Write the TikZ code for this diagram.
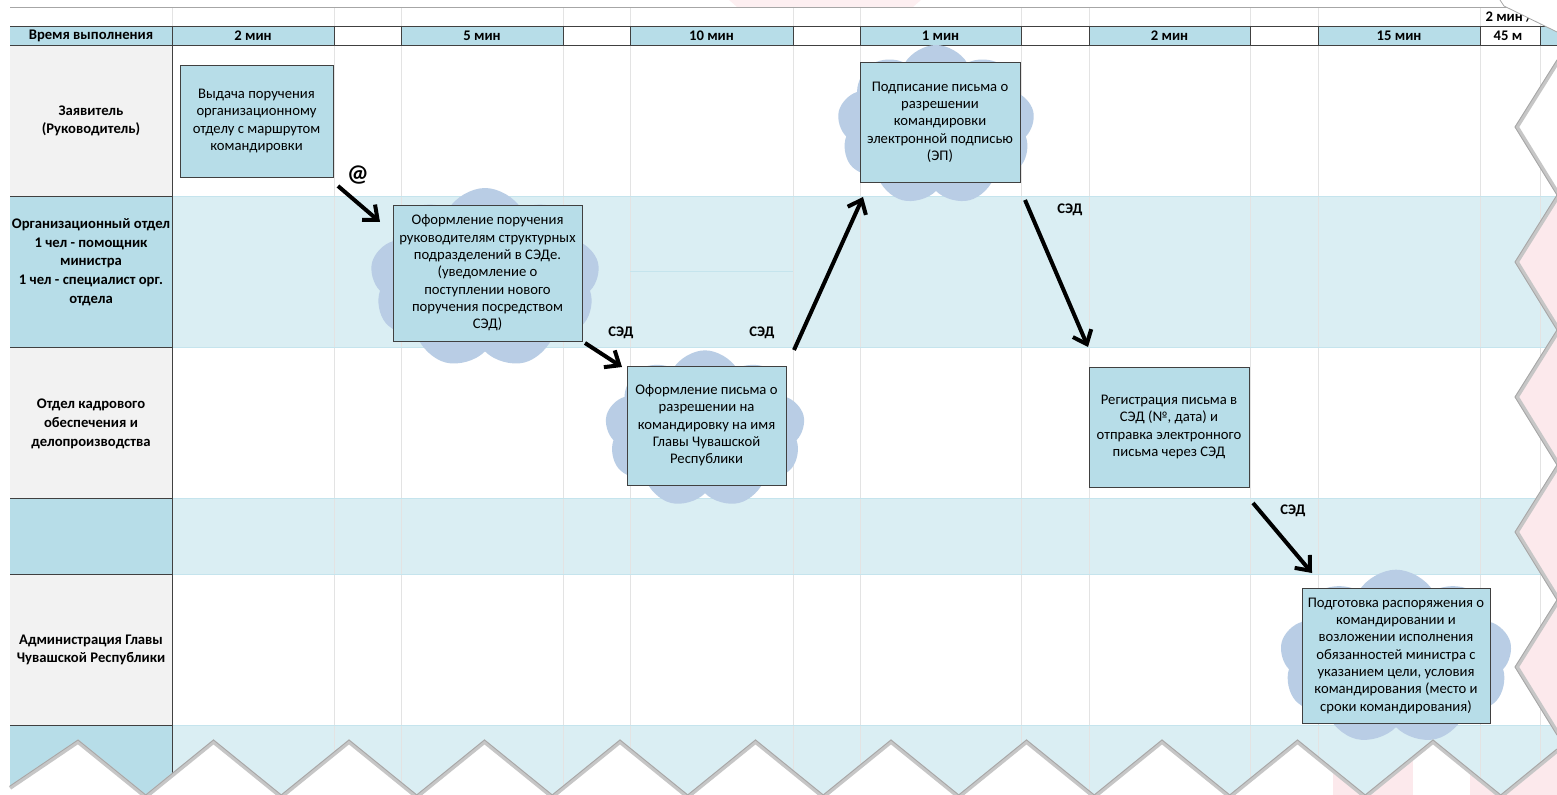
\documentclass[tikz,border=0pt]{standalone}
\usepackage{fontspec}
\setmainfont{Carlito}
\usepackage{tikz}
\usetikzlibrary{shapes, shapes.symbols, arrows.meta, calc, positioning}

\definecolor{hdrblue}{HTML}{B7DDE8}
\definecolor{rowblue}{HTML}{DAEEF3}
\definecolor{lblgray}{HTML}{F2F2F2}
\definecolor{cloudblue}{HTML}{B9CDE5}
\definecolor{edgegray}{HTML}{404040}
\definecolor{wmpink}{HTML}{FBE4E7}

\begin{document}
\begin{tikzpicture}[x=0.75pt, y=-0.75pt, >={Straight Barb[length=9pt, width=15pt]}]
	\tikzstyle{box} = [draw=edgegray, line width=0.7pt, fill=hdrblue, inner sep=2pt,
		align=center, font=\fontsize{11}{13}\selectfont]
	\tikzstyle{cloudy} = [cloud, cloud puffs=9, cloud puff arc=120, fill=cloudblue,
		draw=none, inner sep=0pt]
	\tikzstyle{lane} = [align=center, inner sep=0pt, font=\bfseries\fontsize{11}{14}\selectfont]
	\tikzstyle{hdrtext} = [inner sep=0pt, font=\bfseries\fontsize{11}{13}\selectfont]
	\tikzstyle{tag} = [inner sep=0pt, font=\bfseries\fontsize{11}{13}\selectfont]
	\tikzstyle{tablerule} = [draw=edgegray, line width=0.6pt]
	\tikzstyle{gridline} = [draw=gray!22, line width=0.6pt]
	\tikzstyle{lanerule} = [draw=hdrblue!80, line width=0.6pt]
	\tikzstyle{papercut} = [fill=white]
	\tikzstyle{cutedge} = [draw=gray!70, line width=0.6pt]
	\tikzstyle{cutshadow} = [draw=gray!45, line width=3pt]

	\useasboundingbox (0,0) rectangle (1557,795);
	\def\bottomcut{(10,786) \foreach \k in {0,...,10} { -- ({78+135.5*\k},740) -- ({145.75+135.5*\k},795) } -- (1557,749)}
	\def\rightcut{(1557,60) -- (1515,127) -- (1557,195) -- (1515,262) -- (1557,330) -- (1515,397)
		-- (1557,465) -- (1515,532) -- (1557,600) -- (1515,667) -- (1557,735)}
	\def\cornercut{(1500,0) -- (1504,6) -- (1557,32)}

	\fill[wmpink!60] (729,0) -- (921,0) -- (913,7) -- (737,7) -- cycle;

	\foreach \ya/\yb/\lc/\rc in {45/196/lblgray/white, 196/347/hdrblue/rowblue,
		347/498/lblgray/white, 498/574/hdrblue/rowblue, 574/725/lblgray/white, 725/800/hdrblue/rowblue}
	{
		\fill[\lc] (10,\ya) rectangle (172,\yb);
		\fill[\rc] (172,\ya) rectangle (1557,\yb);
	}
	\foreach \x in {172,334,401,563,630,793,860,1021,1089,1250,1318,1480,1540}
		\draw[gridline] (\x,7) -- (\x,795);
	\foreach \y in {196,347,498,574,725}
	{
		\draw[lanerule] (172,\y) -- (1557,\y);
		\draw[tablerule] (10,\y) -- (172,\y);
	}
	\draw[lanerule] (630,271) -- (793,271);
	\draw[tablerule] (172,45) -- (172,795);
	\draw[draw=gray!70, line width=0.6pt] (10,7) -- (1557,7);

	\fill[hdrblue] (10,26) rectangle (172,45);
	\fill[hdrblue] (1540,26) rectangle (1557,45);
	\foreach \xa/\xb/\txt [count=\i] in {172/334/2 мин, 401/563/5 мин, 630/793/10 мин,
		860/1021/1 мин, 1089/1250/2 мин, 1318/1480/15 мин}
	{
		\fill[hdrblue] (\xa,26) rectangle (\xb,45);
		\node[hdrtext] (hd\i) at ({(\xa+\xb)/2},35.5) {\txt};
	}
	\draw[tablerule] (10,26) -- (1557,26) (10,45) -- (1557,45);
	\foreach \x in {172,334,401,563,630,793,860,1021,1089,1250,1318,1480,1540}
		\draw[tablerule] (\x,26) -- (\x,45);
	\node[hdrtext] (hd0) at (91,35.5) {Время выполнения};
	\node[hdrtext] (tot1) at (1509,17) {2 мин /};
	\node[hdrtext] (tot2) at (1508,36) {45 м};

	\node[lane] (ln1) at (91,121) {Заявитель\\(Руководитель)};
	\node[lane] (ln2) at (91,262) {Организационный отдел\\1 чел - помощник\\министра\\1 чел - специалист орг.\\отдела};
	\node[lane] (ln3) at (91,424) {Отдел кадрового\\обеспечения и\\делопроизводства};
	\node[lane] (ln5) at (91,650) {Администрация Главы\\Чувашской Республики};

	\begin{scope}
		\path[->, line width=3pt]
			node[cloudy, minimum width=172pt, minimum height=135pt] (cl2) at (485,278) {}
			node[cloudy, minimum width=148pt, minimum height=120pt] (cl3) at (936,125) {}
			node[cloudy, minimum width=150pt, minimum height=118pt] (cl4) at (705,429) {}
			node[cloudy, minimum width=174pt, minimum height=131pt] (cl6) at (1396,657) {}

			node[box, minimum width=114.75pt, minimum height=84pt] (b1) at (256.5,121)
				{Выдача поручения\\организационному\\отделу с маршрутом\\командировки}
			node[box, minimum width=141.75pt, minimum height=102pt] (b2) at (487.5,273)
				{Оформление поручения\\руководителям структурных\\подразделений в СЭДе.\\(уведомление о\\поступлении нового\\поручения посредством\\СЭД)}
			node[box, minimum width=120pt, minimum height=90pt] (b3) at (940,122)
				{Подписание письма о\\разрешении\\командировки\\электронной подписью\\(ЭП)}
			node[box, minimum width=119.25pt, minimum height=89.25pt] (b4) at (706.5,425.5)
				{Оформление письма о\\разрешении на\\командировку на имя\\Главы Чувашской\\Республики}
			node[box, minimum width=120pt, minimum height=90pt] (b5) at (1169,427)
				{Регистрация письма в\\СЭД (№, дата) и\\отправка электронного\\письма через СЭД}
			node[box, minimum width=141pt, minimum height=101.25pt] (b6) at (1396,655.5)
				{Подготовка распоряжения о\\командировании и\\возложении исполнения\\обязанностей министра с\\указанием цели, условия\\командирования (место и\\сроки командирования)}

			coordinate (a1s) at (338,186) coordinate (a1e) at (380,222)
			coordinate (a2s) at (585,343) coordinate (a2e) at (622,367)
			coordinate (a3s) at (794,350) coordinate (a3e) at (863,197)
			coordinate (a4s) at (1025,200) coordinate (a4e) at (1088,347)
			coordinate (a5s) at (1253,503) coordinate (a5e) at (1312,573)

			node[tag, font=\bfseries\fontsize{18}{18}\selectfont] (at1) at (358,175) {@}
			node[tag] (sed2) at (621,333) {СЭД}
			node[tag] (sed3) at (762,333) {СЭД}
			node[tag] (sed4) at (1070,210) {СЭД}
			node[tag] (sed5) at (1293,511) {СЭД}

			(a1s) edge (a1e)
			(a2s) edge (a2e)
			(a3s) edge (a3e)
			(a4s) edge (a4e)
			(a5s) edge (a5e)
		;
	\end{scope}

	\fill[papercut] \bottomcut -- (1557,795) -- (10,795) -- cycle;
	\fill[papercut] \rightcut -- cycle;
	\fill[papercut] \cornercut -- (1557,0) -- cycle;
	\begin{scope}
		\clip \bottomcut -- (1557,795) -- (10,795) -- cycle \rightcut -- cycle;
		\fill[wmpink!80] (1515,200) rectangle (1557,795);
		\fill[wmpink!80] (1333,700) rectangle (1413,795);
		\fill[wmpink!80] (1470,700) rectangle (1557,795);
	\end{scope}
	\draw[cutshadow, transform canvas={yshift=-1.4pt}] \bottomcut;
	\draw[cutedge] \bottomcut;
	\draw[cutshadow, transform canvas={xshift=1.4pt}] \rightcut;
	\draw[cutedge] \rightcut;
	\draw[cutedge] \cornercut;
\end{tikzpicture}
\end{document}
